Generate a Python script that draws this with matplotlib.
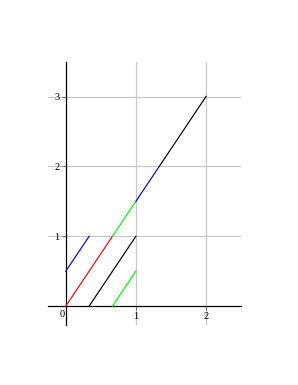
import matplotlib
matplotlib.use("Agg")
import matplotlib.pyplot as plt

# line segments (start / end points) and their colours
seg_x0 = [0, 0, 2/3, 1, 4/3, 1/3, 2/3]
seg_y0 = [0.5, 0, 1, 1.5, 2, 0, 0]
seg_x1 = [1/3, 2/3, 1, 4/3, 2, 1, 1]
seg_y1 = [1, 1, 1.5, 2, 3, 1, 0.5]
seg_colors = ["#0000ff", "#ff0000", "#00ff00", "#0000ff", "black", "black", "#00ff00"]

x_ticks = [1, 2]
y_ticks = [1, 2, 3]

fig = plt.figure(figsize=(2.98, 3.85), dpi=100)
ax = fig.add_axes([0.162, 0.156, 0.647, 0.684])
ax.set_xlim(-0.25, 2.5)
ax.set_ylim(-0.27, 3.5)

for x in x_ticks:
    ax.axvline(x, color="#c8c8c8", lw=0.9, zorder=1)
for y in y_ticks:
    ax.axhline(y, color="#c8c8c8", lw=0.9, zorder=1)

for x0, y0, x1, y1, c in zip(seg_x0, seg_y0, seg_x1, seg_y1, seg_colors):
    ax.plot([x0, x1], [y0, y1], color=c, lw=0.85, zorder=3)

for side in ["top", "right"]:
    ax.spines[side].set_visible(False)
ax.spines["left"].set_position(("data", 0))
ax.spines["bottom"].set_position(("data", 0))
for side in ["left", "bottom"]:
    ax.spines[side].set_linewidth(0.9)

ax.set_xticks(x_ticks)
ax.set_yticks(y_ticks)
ax.set_xticklabels([str(v) for v in x_ticks], family="Liberation Serif", fontsize=7.5)
ax.set_yticklabels([str(v) for v in y_ticks], family="Liberation Serif", fontsize=7.5)
ax.tick_params(axis="both", length=3, width=0.6, color="#666666", pad=1.5)
ax.text(-0.02, -0.06, "0", ha="right", va="top", family="Liberation Serif", fontsize=7.5)

fig.savefig("out.png", dpi=100)
